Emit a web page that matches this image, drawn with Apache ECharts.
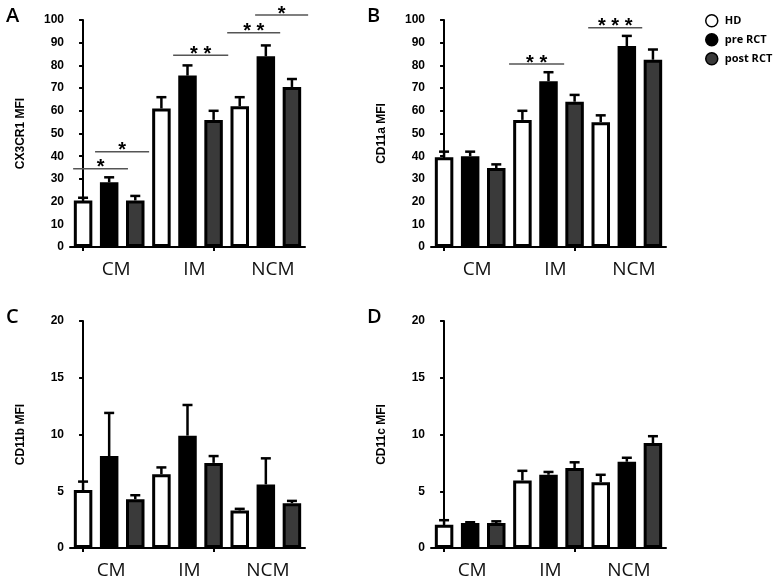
<!DOCTYPE html>
<html>
<head>
<meta charset="utf-8">
<script src="https://cdn.jsdelivr.net/npm/echarts@6/dist/echarts.min.js"></script>
<style>
html,body{margin:0;padding:0;background:#fff;}
#chart{width:777px;height:580px;}
</style>
</head>
<body>
<div id="chart"></div>
<script>
// ---- data ----
const categories = ['CM', 'IM', 'NCM'];
const groups = ['HD', 'pre RCT', 'post RCT'];

const cx3cr1HD = [20.5, 61, 62];
const cx3cr1HDErr = [1.2, 5, 4];
const cx3cr1Pre = [28.5, 75.5, 84];
const cx3cr1PreErr = [2.2, 4.5, 4.8];
const cx3cr1Post = [20.5, 56, 70.5];
const cx3cr1PostErr = [2, 4, 3.5];

const cd11aHD = [39.5, 56, 55];
const cd11aHDErr = [2.5, 4, 3];
const cd11aPre = [40, 73, 88.5];
const cd11aPreErr = [2, 4, 4.5];
const cd11aPost = [34.8, 64, 82.5];
const cd11aPostErr = [1.6, 3, 4.5];

const cd11bHD = [5.1, 6.5, 3.3];
const cd11bHDErr = [0.75, 0.6, 0.15];
const cd11bPre = [8.1, 9.9, 5.6];
const cd11bPreErr = [3.8, 2.7, 2.3];
const cd11bPost = [4.3, 7.5, 3.95];
const cd11bPostErr = [0.35, 0.6, 0.2];

const cd11cHD = [2.05, 5.95, 5.8];
const cd11cHDErr = [0.4, 0.85, 0.65];
const cd11cPre = [2.2, 6.45, 7.6];
const cd11cPreErr = [0.07, 0.25, 0.35];
const cd11cPost = [2.2, 7.05, 9.25];
const cd11cPostErr = [0.15, 0.5, 0.6];

const yTicksAB = [0, 100, 10];   // min, max, interval
const yTicksCD = [0, 20, 5];

// significance brackets: [start slot, end slot, y value]
const sigA = [[-0.38, 1.72, 34.5], [0.46, 2.53, 42], [3.45, 5.56, 84.5], [5.52, 7.55, 94.4], [6.59, 8.62, 102.2]];
const sigALabels = ['*', '*', '* *', '* *', '*'];
const sigB = [[2.49, 4.6, 80.6], [5.52, 7.59, 96.6]];
const sigBLabels = ['* *', '* * *'];

// ---- build ----
const colors = ['#ffffff', '#000000', '#3a3a3a'];
const panels = [
  {letter: 'A', name: 'CX3CR1 MFI', vals: [cx3cr1HD, cx3cr1Pre, cx3cr1Post], errs: [cx3cr1HDErr, cx3cr1PreErr, cx3cr1PostErr], y: yTicksAB, sig: sigA, sigL: sigALabels, left: 70, top: 20, pad: 14},
  {letter: 'B', name: 'CD11a MFI', vals: [cd11aHD, cd11aPre, cd11aPost], errs: [cd11aHDErr, cd11aPreErr, cd11aPostErr], y: yTicksAB, sig: sigB, sigL: sigBLabels, left: 431, top: 20, pad: 14},
  {letter: 'C', name: 'CD11b MFI', vals: [cd11bHD, cd11bPre, cd11bPost], errs: [cd11bHDErr, cd11bPreErr, cd11bPostErr], y: yTicksCD, sig: [], sigL: [], left: 70, top: 321, pad: 4},
  {letter: 'D', name: 'CD11c MFI', vals: [cd11cHD, cd11cPre, cd11cPost], errs: [cd11cHDErr, cd11cPreErr, cd11cPostErr], y: yTicksCD, sig: [], sigL: [], left: 431, top: 321, pad: 4}
];

const slotNames = [];
categories.forEach(c => groups.forEach(g => slotNames.push(c + ' ' + g)));

const option = {
  animation: false,
  backgroundColor: '#fff',
  title: [], grid: [], xAxis: [], yAxis: [], series: [],
  legend: {
    orient: 'vertical', left: 700, top: 9, itemWidth: 12, itemHeight: 12, itemGap: 5.5,
    icon: 'circle', itemGap: 5.5,
    textStyle: {fontFamily: 'Open Sans', fontWeight: 'bold', fontSize: 11, color: '#000', padding: [0, 0, 0, 2]},
    data: groups.map((g, i) => ({name: g, itemStyle: {color: colors[i], borderColor: '#000', borderWidth: 1.5}}))
  }
};

panels.forEach((p, pi) => {
  option.title.push({text: p.letter, left: p.left - 69, top: p.top - 19, textStyle: {fontFamily: 'Open Sans', fontSize: 20, fontWeight: 600, color: '#000'}});
  option.grid.push({left: p.left, top: p.top, width: 235, height: 227});
  const xb = pi * 3;
  option.xAxis.push({
    type: 'category', gridIndex: pi, data: categories, position: 'bottom',
    axisLine: {lineStyle: {color: '#000', width: 2}},
    axisTick: {show: false},
    axisLabel: {fontFamily: 'Open Sans', fontSize: 19, color: '#111', margin: 13, padding: [0, 0, 0, p.pad]}
  });
  option.xAxis.push({
    type: 'category', gridIndex: pi, data: slotNames, position: 'bottom',
    axisLine: {show: false},
    axisTick: {show: true, alignWithLabel: true, length: 4, lineStyle: {color: '#000', width: 2}},
    axisLabel: {show: false}
  });
  option.xAxis.push({type: 'value', gridIndex: pi, min: -0.5, max: 8.5, show: false});
  option.yAxis.push({
    type: 'value', gridIndex: pi, min: p.y[0], max: p.y[1], interval: p.y[2],
    name: p.name, nameLocation: 'middle', nameGap: 43, nameRotate: 90,
    nameTextStyle: {fontFamily: 'Liberation Sans', fontWeight: 'bold', fontSize: 12, color: '#000'},
    axisLine: {show: true, lineStyle: {color: '#000', width: 2}},
    axisTick: {show: true, length: 4, lineStyle: {color: '#000', width: 2}},
    axisLabel: {fontFamily: 'Liberation Sans', fontWeight: 'bold', fontSize: 12, color: '#000', margin: 6},
    splitLine: {show: false}
  });
  groups.forEach((g, gi) => {
    option.series.push({
      type: 'bar', name: g, xAxisIndex: xb, yAxisIndex: pi,
      data: p.vals[gi], barWidth: 18.5, barGap: '41%',
      itemStyle: {color: colors[gi], borderColor: '#000', borderWidth: 3},
      z: 3
    });
  });
  // error bars
  const eb = [];
  categories.forEach((c, ci) => groups.forEach((g, gi) => {
    eb.push([ci * 3 + gi, p.vals[gi][ci], p.errs[gi][ci]]);
  }));
  option.series.push({
    type: 'custom', xAxisIndex: xb + 2, yAxisIndex: pi, data: eb, z: 2,
    renderItem: function (params, api) {
      const x = api.value(0), v = api.value(1), e = api.value(2);
      const p0 = api.coord([x, v]);
      const p1 = api.coord([x, v + e]);
      return {type: 'group', children: [
        {type: 'line', shape: {x1: p0[0], y1: p0[1], x2: p1[0], y2: p1[1]}, style: {stroke: '#000', lineWidth: 2.5}},
        {type: 'line', shape: {x1: p1[0] - 5, y1: p1[1], x2: p1[0] + 5, y2: p1[1]}, style: {stroke: '#000', lineWidth: 2.5}}
      ]};
    }
  });
  if (p.sig.length) {
    const labels = p.sigL;
    option.series.push({
      type: 'custom', xAxisIndex: xb + 2, yAxisIndex: pi, data: p.sig, z: 4, clip: false,
      renderItem: function (params, api) {
        const a = api.coord([api.value(0), api.value(2)]);
        const b = api.coord([api.value(1), api.value(2)]);
        return {type: 'group', children: [
          {type: 'line', shape: {x1: a[0], y1: a[1], x2: b[0], y2: b[1]}, style: {stroke: '#555', lineWidth: 1.5}},
          {type: 'text', x: (a[0] + b[0]) / 2, y: a[1] - 1, style: {text: labels[params.dataIndex], textAlign: 'center', textVerticalAlign: 'middle', font: 'bold 20px "Liberation Sans"', fill: '#000'}}
        ]};
      }
    });
  }
});

const chart = echarts.init(document.getElementById('chart'), null, {renderer: 'canvas'});
chart.setOption(option);
</script>
</body>
</html>
